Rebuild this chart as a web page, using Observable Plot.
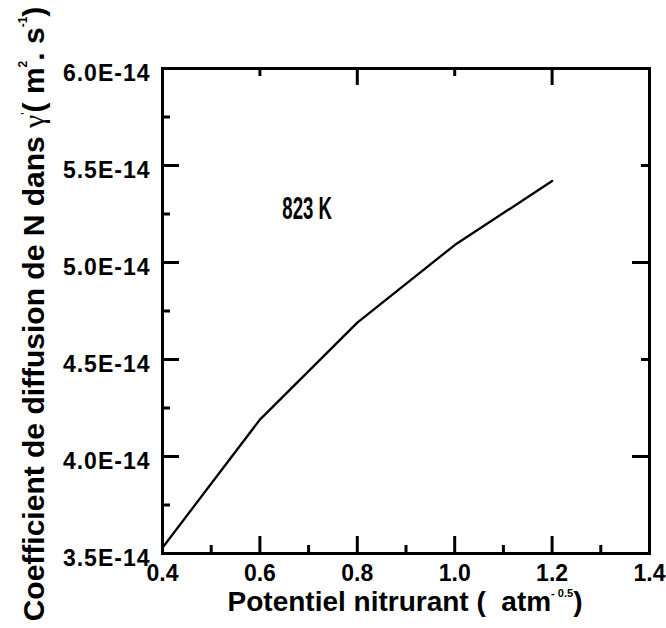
<!DOCTYPE html>
<html>
<head>
<meta charset="utf-8">
<script src="https://cdn.jsdelivr.net/npm/d3@7"></script>
<script src="https://cdn.jsdelivr.net/npm/@observablehq/plot@0.6"></script>
<style>
  html, body { margin: 0; padding: 0; background: #fff; }
  #chart svg { display: block; }
  #chart text { white-space: pre; }
</style>
</head>
<body>
<div id="chart"></div>
<script>
// ---- data ----
const potentiel = [0.4, 0.6, 0.8, 1.0, 1.2];
const diffusion = [3.53e-14, 4.19e-14, 4.69e-14, 5.09e-14, 5.42e-14];

const xMajorTicks = [0.4, 0.6, 0.8, 1.0, 1.2, 1.4];
const xMinorTicks = [0.5, 0.7, 0.9, 1.1, 1.3];
const yMajorTicks = [3.5e-14, 4.0e-14, 4.5e-14, 5.0e-14, 5.5e-14, 6.0e-14];
const yMinorTicks = [3.75e-14, 4.25e-14, 4.75e-14, 5.25e-14, 5.75e-14];
const topLongTicks = [0.8, 1.2];
const topShortTicks = [0.6, 1.0];
const rightLongTicks = [4.0e-14, 5.0e-14];
const rightShortTicks = [4.5e-14, 5.5e-14];

const labelText = ["823 K"];
const labelX = [0.697];
const labelY = [5.275e-14];

const data = potentiel.map((x, i) => ({x, y: diffusion[i]}));
const labels = labelText.map((t, i) => ({t, x: labelX[i], y: labelY[i]}));

const fmtY = d => (d * 1e14).toFixed(1) + "E-14";
const fmtX = d => d.toFixed(1);

const W = 666, H = 628, ML = 162, MR = 17, MT = 68, MB = 75;
const FW = W - ML - MR, FH = H - MT - MB;
const LONG = 17, SHORT = 8, TW = 3;
const id = d => d;

const bottomTicks = (arr, len) => Plot.ruleX(arr, {x: id, insetTop: FH - len, stroke: "black", strokeWidth: TW});
const topTicks = (arr, len) => Plot.ruleX(arr, {x: id, insetBottom: FH - len, stroke: "black", strokeWidth: TW});
const leftTicks = (arr, len) => Plot.ruleY(arr, {y: id, insetRight: FW - len, stroke: "black", strokeWidth: TW});
const rightTicks = (arr, len) => Plot.ruleY(arr, {y: id, insetLeft: FW - len, stroke: "black", strokeWidth: TW});

const chart = Plot.plot({
  width: W,
  height: H,
  marginLeft: ML,
  marginRight: MR,
  marginTop: MT,
  marginBottom: MB,
  style: {fontFamily: "'Liberation Sans', Arial, sans-serif", fontWeight: "bold", fontSize: "24px", color: "black", background: "white"},
  x: {domain: [0.4, 1.4]},
  y: {domain: [3.5e-14, 6.0e-14]},
  marks: [
    // inward ticks
    bottomTicks(xMajorTicks, LONG),
    bottomTicks(xMinorTicks, SHORT),
    topTicks(topLongTicks, LONG),
    topTicks(topShortTicks, SHORT),
    leftTicks(yMajorTicks, LONG),
    leftTicks(yMinorTicks, SHORT),
    rightTicks(rightLongTicks, LONG),
    rightTicks(rightShortTicks, SHORT),
    // tick labels
    Plot.axisX(xMajorTicks, {anchor: "bottom", tickSize: 0, tickPadding: 11, tickFormat: fmtX, label: null, fontSize: 23, fontWeight: "bold"}),
    Plot.axisY(yMajorTicks, {anchor: "left", tickSize: 0, tickPadding: 12, tickFormat: fmtY, label: null, fontSize: 23, fontWeight: "bold", dy: 5}),
    Plot.frame({stroke: "black", strokeWidth: 3}),
    Plot.line(data, {x: "x", y: "y", stroke: "black", strokeWidth: 2.3}),
    Plot.text(labels, {x: "x", y: "y", text: "t", fontSize: 31, fontWeight: "bold", fill: "black"})
  ]
});

document.getElementById("chart").appendChild(chart);

// widen the y tick labels slightly, as in the reference
chart.querySelectorAll('g[aria-label="y-axis tick label"]').forEach(g => {
  g.style.letterSpacing = "1px";
});

// condense the "823 K" annotation
const annot = chart.querySelectorAll('g[aria-label="text"] text');
annot.forEach(t => {
  const tr = t.getAttribute("transform");
  if (tr) {
    t.setAttribute("transform", tr + " scale(0.6,1)");
  } else {
    const x = +t.getAttribute("x") || 0, y = +t.getAttribute("y") || 0;
    t.setAttribute("transform", `translate(${x},${y}) scale(0.6,1)`);
    t.setAttribute("x", 0); t.setAttribute("y", 0);
  }
});

// axis titles with superscripts
const svg = d3.select(chart);
const yt = svg.append("text")
  .attr("transform", "translate(44,314) rotate(-90)")
  .attr("text-anchor", "middle")
  .style("font-family", "'Liberation Sans', Arial, sans-serif")
  .style("font-weight", "bold")
  .style("font-size", "30px")
  .attr("fill", "black");
yt.append("tspan").text("Coefficient de diffusion de N dans ");
yt.append("tspan").style("font-family", "'Liberation Serif', serif").style("font-weight", "normal").text("γ");
yt.append("tspan").attr("dy", -14).style("font-size", "12px").style("font-weight", "normal").text("'");
yt.append("tspan").attr("dy", 14).text("( m");
yt.append("tspan").attr("dy", -17).style("font-size", "12px").text("2");
yt.append("tspan").attr("dy", 17).text(". s");
yt.append("tspan").attr("dy", -17).style("font-size", "12px").text("-1");
yt.append("tspan").attr("dy", 17).text(")");

const xt = svg.append("text")
  .attr("transform", "translate(405,611)")
  .attr("text-anchor", "middle")
  .style("font-family", "'Liberation Sans', Arial, sans-serif")
  .style("font-weight", "bold")
  .style("font-size", "28px")
  .style("white-space", "pre")
  .attr("fill", "black");
xt.append("tspan").text("Potentiel nitrurant (  atm");
xt.append("tspan").attr("dy", -14).style("font-size", "11px").text("- 0.5");
xt.append("tspan").attr("dy", 14).text(")");
</script>
</body>
</html>
